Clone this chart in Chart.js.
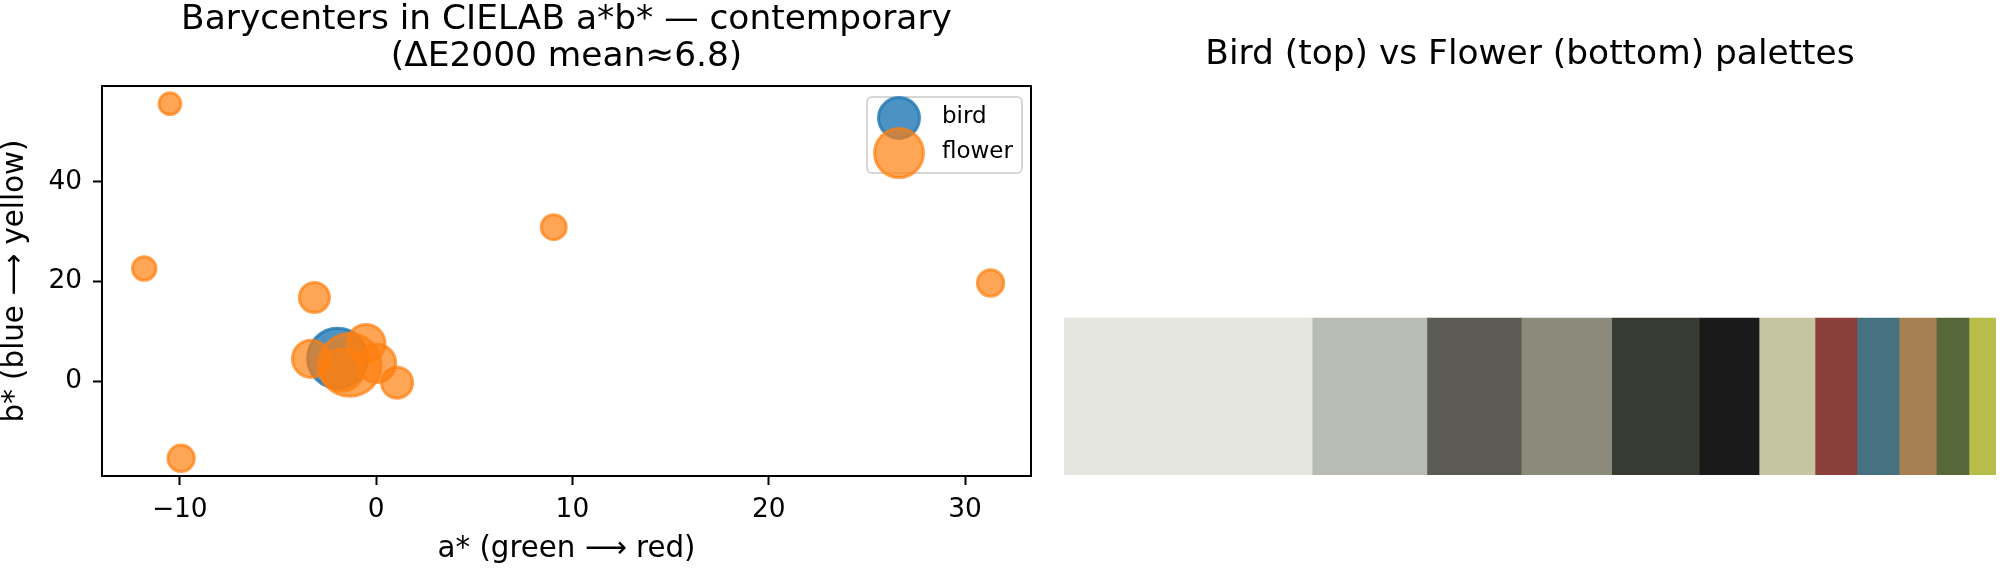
<!DOCTYPE html>
<html>
<head>
<meta charset="utf-8">
<script src="https://cdn.jsdelivr.net/npm/chart.js@4"></script>
<style>
  html, body { margin: 0; padding: 0; background: #fff; }
  #wrap { position: relative; width: 2000px; height: 570px; }
  #scatterBox { position: absolute; left: 0; top: 0; width: 1050px; height: 570px; }
  #paletteBox { position: absolute; left: 1050px; top: 0; width: 950px; height: 570px; }
</style>
</head>
<body>
<div id="wrap">
  <div id="scatterBox"><canvas id="scatter" width="1050" height="570"></canvas></div>
  <div id="paletteBox"><canvas id="palette" width="950" height="570"></canvas></div>
</div>
<script>
// bird barycenter (a*, b*) and its weight
const birdA = [-1.96];
const birdB = [4.6];
const birdWeight = [24.4];

// flower palette: colour, share of the palette (%), position in a*b*
const flowerHex = ['#e4e5df', '#b9bbb5', '#5b5a54', '#8c8a7b', '#363c31', '#1b1a1b',
                   '#c5c6a1', '#8b3f3b', '#467181', '#a67f52', '#56683a', '#b8bd4a'];
const flowerShare = [26.6, 12.3, 10.1, 9.7, 9.4, 6.4, 6.0, 4.5, 4.5, 4.0, 3.5, 2.9];
const flowerA = [-1.34, -1.73, 0.02, -0.51, -3.31, 1.07, -3.14, 31.3, -9.93, 9.05, -11.81, -10.5];
const flowerB = [3.27, 2.26, 3.6, 7.6, 4.5, -0.28, 16.8, 19.7, -15.45, 30.9, 22.6, 55.65];

const paletteRows = ['bird', 'flower'];
const xTicks = [-10, 0, 10, 20, 30];
const yTicks = [0, 20, 40];

const X_MIN = -13.96, X_MAX = 33.36;
const Y_MIN = -19.0, Y_MAX = 59.2;

const BLUE = 'rgba(31, 119, 180, 0.8)';
const ORANGE = 'rgba(255, 127, 14, 0.7)';
const FONT = 'DejaVu Sans';

Chart.defaults.font.family = FONT;
Chart.defaults.color = '#000';

// marker area grows with the weight, like plt.scatter(s=...)
const markerRadius = w => Math.sqrt(40 + 39 * w) - 1.5;
const fmt = v => String(v).replace('-', '\u2212');

const frameAndLegend = {
    id: 'frameAndLegend',
    afterDraw(chart) {
        const {ctx, chartArea: a} = chart;
        ctx.save();
        ctx.strokeStyle = '#000';
        ctx.lineWidth = 2;
        ctx.strokeRect(a.left, a.top, a.right - a.left, a.bottom - a.top);

        // legend box, upper right
        const bx = a.right - 164, by = a.top + 11, bw = 155, bh = 76;
        ctx.beginPath();
        ctx.roundRect(bx, by, bw, bh, 5);
        ctx.fillStyle = 'rgba(255,255,255,0.8)';
        ctx.fill();
        ctx.strokeStyle = 'rgba(204,204,204,0.8)';
        ctx.lineWidth = 2;
        ctx.stroke();

        const legendR = [20.5, 24.5];
        const rowY = [21, 56];
        chart.data.datasets.forEach((ds, i) => {
            ctx.beginPath();
            ctx.arc(bx + 32, by + rowY[i], legendR[i], 0, Math.PI * 2);
            ctx.fillStyle = ds.backgroundColor;
            ctx.fill();
            ctx.strokeStyle = ds.borderColor;
            ctx.lineWidth = ds.borderWidth;
            ctx.stroke();
        });
        ctx.fillStyle = '#000';
        ctx.font = '23px "' + FONT + '"';
        ctx.textBaseline = 'middle';
        ctx.textAlign = 'left';
        chart.data.datasets.forEach((ds, i) => {
            ctx.fillText(ds.label, bx + 75, by + rowY[i] - 0.5);
        });
        ctx.restore();
    }
};

new Chart(document.getElementById('scatter'), {
    type: 'scatter',
    data: {
        datasets: [
            {
                label: 'bird',
                data: birdA.map((a, i) => ({x: a, y: birdB[i]})),
                backgroundColor: BLUE,
                borderColor: BLUE,
                borderWidth: 3,
                pointRadius: c => markerRadius(birdWeight[c.dataIndex]),
                order: 2
            },
            {
                label: 'flower',
                data: flowerA.map((a, i) => ({x: a, y: flowerB[i]})),
                backgroundColor: ORANGE,
                borderColor: ORANGE,
                borderWidth: 3,
                pointRadius: c => markerRadius(flowerShare[c.dataIndex]),
                order: 1
            }
        ]
    },
    options: {
        responsive: false,
        animation: false,
        events: [],
        layout: { autoPadding: false, padding: { left: 0, right: 19, top: 0, bottom: 0 } },
        plugins: {
            legend: { display: false },
            tooltip: { enabled: false },
            title: {
                display: true,
                fullSize: false,
                text: ['Barycenters in CIELAB a*b* \u2014 contemporary', '(\u0394E2000 mean\u22486.8)'],
                color: '#000',
                font: { size: 34.4, weight: 'normal', lineHeight: 1.07 },
                padding: { top: 1.4, bottom: 11 }
            }
        },
        scales: {
            x: {
                type: 'linear',
                min: X_MIN,
                max: X_MAX,
                afterBuildTicks: s => { s.ticks = xTicks.map(v => ({value: v})); },
                afterFit: s => { s.height = 94; s.paddingLeft = 0; s.paddingRight = 0; },
                grid: { drawOnChartArea: false, tickLength: 9, tickWidth: 2, tickColor: '#000' },
                border: { display: false },
                ticks: { padding: 9, maxRotation: 0, font: { size: 26.4 }, callback: fmt },
                title: { display: true, text: 'a* (green \u27F6 red)', font: { size: 29.3, lineHeight: 1 }, padding: { top: 0, bottom: 6 } }
            },
            y: {
                type: 'linear',
                min: Y_MIN,
                max: Y_MAX,
                afterBuildTicks: s => { s.ticks = yTicks.map(v => ({value: v})); },
                afterFit: s => { s.width = 102; s.paddingTop = 0; s.paddingBottom = 0; },
                grid: { drawOnChartArea: false, tickLength: 9, tickWidth: 2, tickColor: '#000' },
                border: { display: false },
                ticks: { padding: 11, font: { size: 26.4 }, callback: fmt },
                title: { display: true, text: 'b* (blue \u27F6 yellow)', font: { size: 29.3, lineHeight: 1 }, padding: { top: 0.5, bottom: 0 } }
            }
        }
    },
    plugins: [frameAndLegend]
});

const shareTotal = flowerShare.reduce((s, v) => s + v, 0);

new Chart(document.getElementById('palette'), {
    type: 'bar',
    data: {
        labels: paletteRows,
        datasets: flowerShare.map((s, i) => ({
            label: flowerHex[i],
            data: [null, s],
            backgroundColor: flowerHex[i],
            borderWidth: 0,
            barPercentage: 1,
            categoryPercentage: 1
        }))
    },
    options: {
        indexAxis: 'y',
        responsive: false,
        animation: false,
        events: [],
        layout: { autoPadding: false, padding: { left: 14, right: 4, top: 0, bottom: 95 } },
        plugins: {
            legend: { display: false },
            tooltip: { enabled: false },
            title: {
                display: true,
                text: 'Bird (top) vs Flower (bottom) palettes',
                color: '#000',
                font: { size: 34.4, weight: 'normal', lineHeight: 1.07 },
                padding: { top: 36.4, bottom: 87.8 }
            }
        },
        scales: {
            x: { stacked: true, display: false, min: 0, max: shareTotal },
            y: { stacked: true, display: false }
        }
    }
});
</script>
</body>
</html>
